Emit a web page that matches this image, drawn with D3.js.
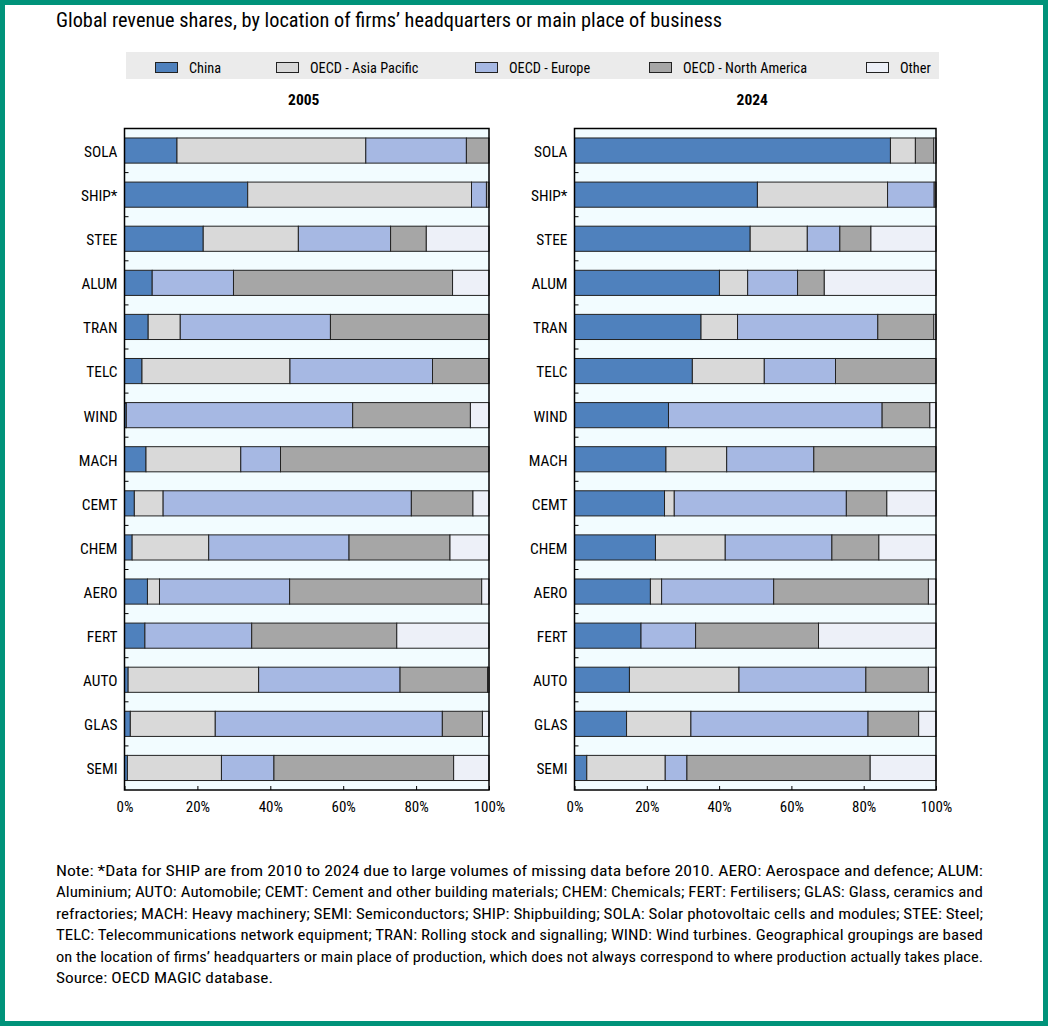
<!DOCTYPE html>
<html>
<head>
<meta charset="utf-8">
<script src="https://cdn.jsdelivr.net/npm/d3@7"></script>
<style>
  body { margin: 0; background: #fff; }
  svg { display: block; }
  text { font-family: "Liberation Sans Narrow", "Arial Narrow", "Roboto Condensed", sans-serif; fill: #000; }
</style>
</head>
<body>
<svg id="chart" width="1048" height="1026"></svg>
<script>
// categories, top to bottom
const sectors = ["SOLA","SHIP*","STEE","ALUM","TRAN","TELC","WIND","MACH","CEMT","CHEM","AERO","FERT","AUTO","GLAS","SEMI"];
const regions = ["China","OECD - Asia Pacific","OECD - Europe","OECD - North America","Other"];
const regionColors = ["#4f81bd","#d9d9d9","#a6b8e3","#a6a6a6","#edf0f8"];

// 2005 shares (%)
const china2005   = [14.4,33.8,21.6, 7.6, 6.5, 4.8, 0.5, 5.9, 2.7, 2.1, 6.3, 5.6, 1.0, 1.6, 0.8];
const asiaPac2005 = [51.8,61.4,26.1, 0.0, 8.8,40.6, 0.0,26.0, 7.9,21.0, 3.3, 0.0,35.8,23.3,25.8];
const europe2005  = [27.6, 4.1,25.3,22.3,41.2,39.1,62.1,10.9,68.1,38.5,35.7,29.3,38.8,62.3,14.4];
const northAm2005 = [ 6.2, 0.7, 9.8,60.1,43.5,15.5,32.3,57.2,16.9,27.7,52.7,39.8,24.0,11.0,49.3];
const other2005   = [ 0.0, 0.0,17.2,10.0, 0.0, 0.0, 5.1, 0.0, 4.4,10.7, 2.0,25.3, 0.4, 1.8, 9.7];

// 2024 shares (%)
const china2024   = [87.4,50.6,48.6,40.1,35.0,32.6,26.0,25.3,24.9,22.4,21.0,18.4,15.2,14.4, 3.4];
const asiaPac2024 = [ 6.9,36.0,15.8, 7.8,10.1,19.9, 0.0,16.8, 2.7,19.3, 3.1, 0.0,30.3,17.8,21.7];
const europe2024  = [ 0.0,12.9, 9.0,13.8,38.8,19.7,59.1,24.1,47.6,29.5,31.0,15.1,35.1,49.0, 6.0];
const northAm2024 = [ 5.1, 0.5, 8.6, 7.4,15.5,27.8,13.2,33.8,11.2,13.0,42.8,34.0,17.3,14.0,50.7];
const other2024   = [ 0.6, 0.0,18.0,30.9, 0.6, 0.0, 1.7, 0.0,13.6,15.8, 2.1,32.5, 2.1, 4.8,18.2];

const xTicks = [0, 20, 40, 60, 80, 100];

const noteLines = [
  "Note: *Data for SHIP are from 2010 to 2024 due to large volumes of missing data before 2010. AERO: Aerospace and defence; ALUM:",
  "Aluminium; AUTO: Automobile; CEMT: Cement and other building materials; CHEM: Chemicals; FERT: Fertilisers; GLAS: Glass, ceramics and",
  "refractories; MACH: Heavy machinery; SEMI: Semiconductors; SHIP: Shipbuilding; SOLA: Solar photovoltaic cells and modules; STEE: Steel;",
  "TELC: Telecommunications network equipment; TRAN: Rolling stock and signalling; WIND: Wind turbines. Geographical groupings are based",
  "on the location of firms\u2019 headquarters or main place of production, which does not always correspond to where production actually takes place.",
  "Source: OECD MAGIC database."
];
// widths of the note lines in the original (last line not justified)
const noteWidths = [927, 927, 927, 927, 927, 217];

const svg = d3.select("#chart");
const W = +svg.attr("width"), H = +svg.attr("height");

// outer frame
svg.append("rect").attr("x", 2.5).attr("y", 2.5).attr("width", W - 5).attr("height", H - 5)
  .attr("fill", "#fff").attr("stroke", "#00937a").attr("stroke-width", 5);

svg.append("text").attr("x", 56).attr("y", 27)
  .attr("font-size", 20).attr("textLength", 666).attr("lengthAdjust", "spacingAndGlyphs")
  .text("Global revenue shares, by location of firms\u2019 headquarters or main place of business");

// legend
const legendX = [155, 276, 475, 649, 866];
const legend = svg.append("g");
legend.append("rect").attr("x", 126).attr("y", 52).attr("width", 813).attr("height", 27).attr("fill", "#ebebeb");
regions.forEach((r, i) => {
  legend.append("rect").attr("x", legendX[i] + 0.5).attr("y", 62.5).attr("width", 22).attr("height", 10)
    .attr("fill", regionColors[i]).attr("stroke", "#222").attr("stroke-width", 1);
  legend.append("text").attr("x", legendX[i] + 34).attr("y", 72.5).attr("font-size", 14.3).text(r);
});

const plotTop = 128.5, plotBottom = 790;

function drawPanel(title, series, x0, x1) {
  const rows = sectors.map((s, i) => {
    const row = {sector: s};
    regions.forEach((r, k) => row[r] = series[k][i]);
    return row;
  });
  const stacked = d3.stack().keys(regions)(rows);

  const x = d3.scaleLinear().domain([0, 100]).range([x0, x1]);
  const y = d3.scaleBand().domain(sectors).range([plotTop, plotBottom])
    .paddingInner(0.43).paddingOuter(0.215);

  const g = svg.append("g");

  g.append("rect").attr("x", x0).attr("y", plotTop).attr("width", x1 - x0).attr("height", plotBottom - plotTop)
    .attr("fill", "#f2fcff");

  g.append("text").attr("x", (x0 + x1) / 2 - 3).attr("y", 105).attr("text-anchor", "middle")
    .attr("font-size", 15.5).attr("font-weight", "bold").text(title);

  g.selectAll("g.layer").data(stacked).join("g")
    .attr("class", "layer")
    .attr("fill", (d, i) => regionColors[i])
    .selectAll("rect").data(d => d.filter(v => v[1] - v[0] > 0)).join("rect")
      .attr("x", d => x(d[0]))
      .attr("width", d => x(d[1]) - x(d[0]))
      .attr("y", d => y(d.data.sector))
      .attr("height", y.bandwidth())
      .attr("stroke", "#222")
      .attr("stroke-width", 1);

  // ticks between bands, inside the frame
  const step = y.step();
  g.selectAll("line.ytick").data(sectors.slice(1)).join("line")
    .attr("class", "ytick")
    .attr("x1", x0).attr("x2", x0 + 4)
    .attr("y1", d => y(d) - (step - y.bandwidth()) / 2)
    .attr("y2", d => y(d) - (step - y.bandwidth()) / 2)
    .attr("stroke", "#000").attr("stroke-width", 1);

  // category labels
  g.selectAll("text.ylab").data(sectors).join("text")
    .attr("class", "ylab")
    .attr("x", x0 - 7).attr("y", d => y(d) + y.bandwidth() / 2 + 1)
    .attr("dy", "0.35em").attr("text-anchor", "end").attr("font-size", 15.4)
    .text(d => d);

  const xAxis = g.append("g").attr("transform", `translate(0,${plotBottom})`)
    .call(d3.axisBottom(x).tickValues(xTicks).tickSize(-4).tickPadding(11).tickFormat(d => d + "%"));
  xAxis.select(".domain").remove();
  xAxis.selectAll("line").attr("stroke", "#000");
  xAxis.selectAll("text").attr("font-size", 15).attr("font-family", null);

  // frame
  g.append("rect").attr("x", x0).attr("y", plotTop).attr("width", x1 - x0).attr("height", plotBottom - plotTop)
    .attr("fill", "none").attr("stroke", "#000").attr("stroke-width", 1.5);
}

drawPanel("2005", [china2005, asiaPac2005, europe2005, northAm2005, other2005], 124.5, 489);
drawPanel("2024", [china2024, asiaPac2024, europe2024, northAm2024, other2024], 574.5, 936);

// note block, justified like the original
const note = svg.append("g");
noteLines.forEach((line, i) => {
  note.append("text").attr("x", 56).attr("y", 876 + i * 21.4).attr("font-size", 15.5)
    .attr("textLength", noteWidths[i]).attr("lengthAdjust", "spacingAndGlyphs").text(line);
});
</script>
</body>
</html>
